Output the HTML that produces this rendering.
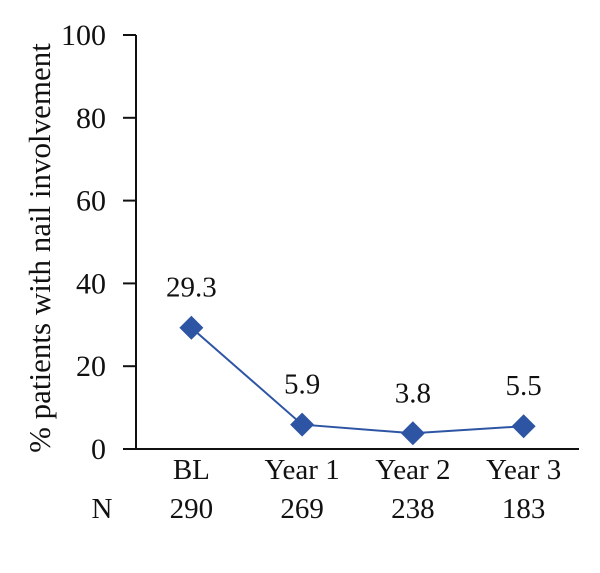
<!DOCTYPE html>
<html><head><meta charset="utf-8"><style>
body{margin:0;background:#fff}
svg text{font-family:"Liberation Serif",serif;fill:#111}
</style></head><body>
<svg width="600" height="568" viewBox="0 0 600 568" xmlns="http://www.w3.org/2000/svg">
<g id="plot"></g>
</svg>
<script>
const categories=["BL","Year 1","Year 2","Year 3"];
const values=[29.3,5.9,3.8,5.5];
const valueLabels=["29.3","5.9","3.8","5.5"];
const nCounts=["290","269","238","183"];
const yTicks=[0,20,40,60,80,100];
const X0=136,X1=579,Y0=449,Y1=35;
const ys=v=>Y0-(v/100)*(Y0-Y1);
const bw=(X1-X0)/categories.length;
const xs=i=>X0+bw*(i+0.5);
const NS="http://www.w3.org/2000/svg";
const g=document.getElementById('plot');
function mk(t,a){const e=document.createElementNS(NS,t);for(const k in a)e.setAttribute(k,a[k]);g.appendChild(e);return e;}
let e=mk('line',{x1:X0,y1:Y1,x2:X0,y2:Y0,stroke:'#111','stroke-width':2});


e=mk('line',{x1:X0,y1:Y0,x2:X1,y2:Y0,stroke:'#111','stroke-width':2});


yTicks.forEach(t=>{
 let l=mk('line',{x1:X0-13,y1:ys(t),x2:X0,y2:ys(t),stroke:'#111','stroke-width':2});
 
 
 let tx=mk('text',{x:X0-30,y:ys(t)+10,'text-anchor':'end','font-size':30});
 tx.textContent=t;
 
 
});
let pts=values.map((v,i)=>xs(i)+','+ys(v)).join(' ');
e=mk('polyline',{points:pts,fill:'none',stroke:'#2E55A4','stroke-width':2});


values.forEach((v,i)=>{
 const x=xs(i),y=ys(v),r=12;
 let p=mk('polygon',{points:`${x},${y-r} ${x+r},${y} ${x},${y+r} ${x-r},${y}`,fill:'#2E55A4'});
 
 
 let t=mk('text',{x:x,y:y-31,'text-anchor':'middle','font-size':29});
 t.textContent=valueLabels[i];
 
 
 let c=mk('text',{x:x,y:479,'text-anchor':'middle','font-size':29});
 c.textContent=categories[i];
 
 
 let n=mk('text',{x:x,y:518,'text-anchor':'middle','font-size':29});
 n.textContent=nCounts[i];
 
 
});
e=mk('text',{x:102,y:518,'text-anchor':'middle','font-size':29});
e.textContent='N';


e=mk('text',{x:0,y:0,'text-anchor':'middle','font-size':31,transform:'translate(50,248) rotate(-90)'});
e.textContent='% patients with nail involvement';


</script>
</body></html>
